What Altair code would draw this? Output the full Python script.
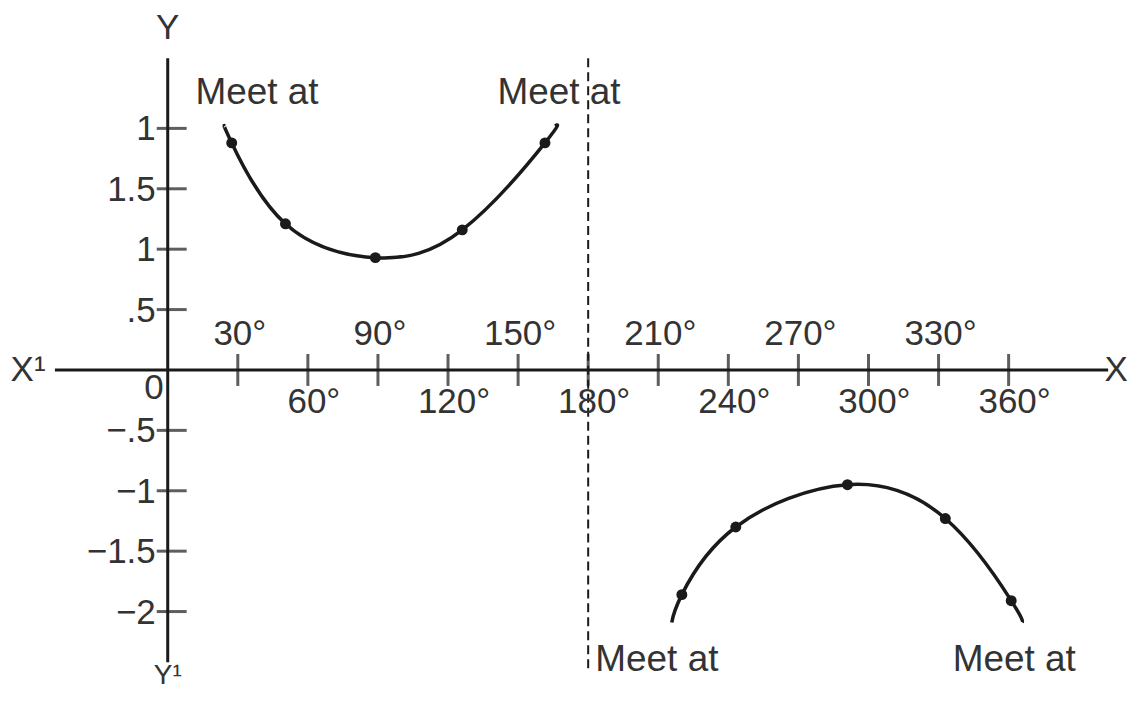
import altair as alt
import pandas as pd

# ---- data (x in degrees, y in value units) ----
upper_curve_x = [24.4, 27.4, 50.4, 88.9, 126.1, 161.5, 165.8]
upper_curve_y = [2.02, 1.88, 1.21, 0.93, 1.16, 1.88, 2.02]
upper_dot_x = [27.4, 50.4, 88.9, 126.1, 161.5]
upper_dot_y = [1.88, 1.21, 0.93, 1.16, 1.88]

lower_curve_x = [215.8, 220.1, 243.2, 291.0, 332.9, 361.1, 365.8]
lower_curve_y = [-2.09, -1.86, -1.30, -0.95, -1.23, -1.91, -2.09]
lower_dot_x = [220.1, 243.2, 291.0, 332.9, 361.1]
lower_dot_y = [-1.86, -1.30, -0.95, -1.23, -1.91]

x_tick_values = [30, 60, 90, 120, 150, 180, 210, 240, 270, 300, 330, 360]
x_tick_labels = ["30°", "60°", "90°", "120°", "150°", "180°",
                 "210°", "240°", "270°", "300°", "330°", "360°"]
y_tick_values = [2, 1.5, 1, 0.5, -0.5, -1, -1.5, -2]
y_tick_labels = ["1", "1.5", "1", ".5", "−.5", "−1", "−1.5", "−2"]

asymptote_x = [180]
meet_x = [38.2, 167.5, 209.4, 362.4]
meet_y = [2.29, 2.29, -2.40, -2.40]
meet_text = ["Meet at", "Meet at", "Meet at", "Meet at"]

# ---- tables ----
curves = pd.DataFrame({
    "x": upper_curve_x + lower_curve_x,
    "y": upper_curve_y + lower_curve_y,
    "branch": ["upper"] * len(upper_curve_x) + ["lower"] * len(lower_curve_x),
    "order": list(range(len(upper_curve_x))) + list(range(len(lower_curve_x))),
})
dots = pd.DataFrame({"x": upper_dot_x + lower_dot_x, "y": upper_dot_y + lower_dot_y})
xt = pd.DataFrame({"x": x_tick_values, "label": x_tick_labels, "y": 0})
xt["pos"] = ["top" if i % 2 == 0 else "bottom" for i in range(len(xt))]
yt = pd.DataFrame({"y": y_tick_values, "label": y_tick_labels, "x": 0})
meet = pd.DataFrame({"x": meet_x, "y": meet_y, "text": meet_text})

XD = [-68.38, 412.39]
YD = [-2.661, 2.9917]
xs = alt.Scale(domain=XD, nice=False, zero=False)
ys = alt.Scale(domain=YD, nice=False, zero=False)
INK = "#1a1a1a"
TXT = "#333333"
FONT = "Liberation Sans"


def X(field="x"):
    return alt.X(f"{field}:Q", scale=xs, axis=None)


def Y(field="y"):
    return alt.Y(f"{field}:Q", scale=ys, axis=None)


# axes
x_axis = alt.Chart(pd.DataFrame({"a": [-48.3], "b": [402.6], "y": [0]})).mark_rule(
    color=INK, strokeWidth=3).encode(x=X("a"), x2="b:Q", y=Y())
y_axis = alt.Chart(pd.DataFrame({"x": [0], "a": [2.58], "b": [-2.42]})).mark_rule(
    color=INK, strokeWidth=3).encode(x=X(), y=Y("a"), y2="b:Q")

x_ticks = alt.Chart(xt).mark_tick(orient="vertical", color=INK, thickness=3, size=32).encode(
    x=X(), y=Y())
y_ticks = alt.Chart(yt).mark_tick(orient="horizontal", color=INK, thickness=3, size=30,
                                  xOffset=4).encode(x=X(), y=Y())

x_lab_top = alt.Chart(xt[xt.pos == "top"]).mark_text(
    font=FONT, fontSize=35, color=TXT, baseline="middle", align="center", dx=2, dy=-36).encode(
    x=X(), y=Y(), text="label:N")
x_lab_bot = alt.Chart(xt[xt.pos == "bottom"]).mark_text(
    font=FONT, fontSize=35, color=TXT, baseline="middle", align="center", dx=6, dy=32).encode(
    x=X(), y=Y(), text="label:N")
y_lab = alt.Chart(yt).mark_text(
    font=FONT, fontSize=35, color=TXT, baseline="middle", align="right", dx=-12, dy=1).encode(
    x=X(), y=Y(), text="label:N")

zero_lab = alt.Chart(pd.DataFrame({"x": [0], "y": [0], "t": ["0"]})).mark_text(
    font=FONT, fontSize=35, color=TXT, align="right", baseline="middle", dx=-4, dy=18).encode(
    x=X(), y=Y(), text="t:N")
xl = alt.Chart(pd.DataFrame({"x": [-59.8], "y": [0], "t": ["X¹"]})).mark_text(
    font=FONT, fontSize=35, color=TXT, align="center", baseline="middle").encode(
    x=X(), y=Y(), text="t:N")
xr = alt.Chart(pd.DataFrame({"x": [406.0], "y": [0], "t": ["X"]})).mark_text(
    font=FONT, fontSize=35, color=TXT, align="center", baseline="middle").encode(
    x=X(), y=Y(), text="t:N")
yl = alt.Chart(pd.DataFrame({"x": [0], "y": [2.83], "t": ["Y"]})).mark_text(
    font=FONT, fontSize=35, color=TXT, align="center", baseline="middle").encode(
    x=X(), y=Y(), text="t:N")
yb = alt.Chart(pd.DataFrame({"x": [0], "y": [-2.65], "t": ["Y¹"]})).mark_text(
    font=FONT, fontSize=28, color=TXT, align="center", baseline="bottom").encode(
    x=X(), y=Y(), text="t:N")

asym = alt.Chart(pd.DataFrame({"x": asymptote_x, "a": [2.58], "b": [-2.50]})).mark_rule(
    color=INK, strokeWidth=2, strokeDash=[9, 5]).encode(x=X(), y=Y("a"), y2="b:Q")

lines = alt.Chart(curves).mark_line(color=INK, strokeWidth=3.5, interpolate="natural").encode(
    x=X(), y=Y(), detail="branch:N", order="order:Q")
pts = alt.Chart(dots).mark_circle(color=INK, opacity=1, size=120).encode(x=X(), y=Y())

meet_lab = alt.Chart(meet).mark_text(
    font=FONT, fontSize=37, color=TXT, align="center", baseline="middle").encode(
    x=X(), y=Y(), text="text:N")

chart = alt.layer(
    x_axis, y_axis, x_ticks, y_ticks, asym, lines, pts,
    x_lab_top, x_lab_bot, y_lab, zero_lab, xl, xr, yl, yb, meet_lab,
).properties(
    width=1125, height=684, padding=0,
    autosize=alt.AutoSizeParams(type="none"),
    background="white",
).configure_view(stroke=None)

chart.save("out.html", embed_options={"renderer": "svg", "actions": False})
